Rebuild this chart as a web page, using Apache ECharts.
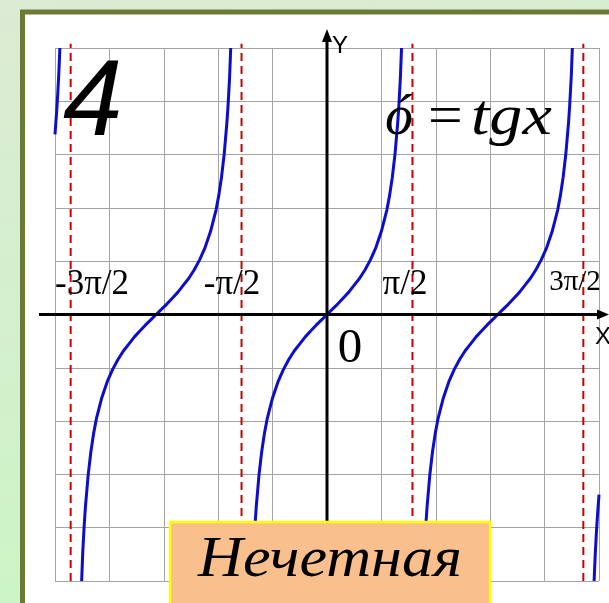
<!DOCTYPE html>
<html>
<head>
<meta charset="utf-8">
<script src="https://cdn.jsdelivr.net/npm/echarts@6/dist/echarts.min.js"></script>
<style>
html, body { margin: 0; padding: 0; overflow: hidden; }
#chart { width: 609px; height: 603px; }
</style>
</head>
<body>
<div id="chart"></div>
<script>
// y = tg x on x in [-5, 5]; each branch is cut off at |y| = 5
const branchY = [-5, -4.46, -3.90, -3.60, -3.01, -2.57, -2.23, -1.96, -1.56, -1.26, -1.03, -0.84, -0.68,
  -0.55, -0.42, -0.31, -0.20, -0.10, 0, 0.10, 0.20, 0.31, 0.42, 0.55, 0.68, 0.84, 1.03, 1.26, 1.56,
  1.96, 2.23, 2.57, 3.01, 3.60, 3.90, 4.46, 5];
const branchWestX = [-4.51, -4.49, -4.46, -4.44, -4.39, -4.34, -4.29, -4.24, -4.14, -4.04, -3.94, -3.84,
  -3.74, -3.64, -3.54, -3.44, -3.34, -3.24, -3.14, -3.04, -2.94, -2.84, -2.74, -2.64, -2.54, -2.44,
  -2.34, -2.24, -2.14, -2.04, -1.99, -1.94, -1.89, -1.84, -1.82, -1.79, -1.77];
const branchCentreX = [-1.37, -1.35, -1.32, -1.30, -1.25, -1.20, -1.15, -1.10, -1.00, -0.90, -0.80, -0.70,
  -0.60, -0.50, -0.40, -0.30, -0.20, -0.10, 0, 0.10, 0.20, 0.30, 0.40, 0.50, 0.60, 0.70, 0.80, 0.90,
  1.00, 1.10, 1.15, 1.20, 1.25, 1.30, 1.32, 1.35, 1.37];
const branchEastX = [1.77, 1.79, 1.82, 1.84, 1.89, 1.94, 1.99, 2.04, 2.14, 2.24, 2.34, 2.44, 2.54, 2.64,
  2.74, 2.84, 2.94, 3.04, 3.14, 3.24, 3.34, 3.44, 3.54, 3.64, 3.74, 3.84, 3.94, 4.04, 4.14, 4.24,
  4.29, 4.34, 4.39, 4.44, 4.46, 4.49, 4.51];
const edgeLeftX = [-5, -4.97, -4.95, -4.93, -4.91];
const edgeLeftY = [3.38, 3.80, 4.13, 4.52, 5];
const edgeRightX = [4.91, 4.93, 4.95, 4.97, 5];
const edgeRightY = [-5, -4.52, -4.13, -3.80, -3.38];

// vertical asymptotes x = ±π/2, ±3π/2
const asymptoteX = [-4.712, -1.571, 1.571, 4.712];
const asymptoteSpan = [-5, 5.08];
const asymptoteLabels = ['-3π/2', '-π/2', 'π/2', '3π/2'];

// square grid, one cell per unit
const axisMin = -5;
const axisMax = 5;
const axisStep = 1;

const zip = (xs, ys) => xs.map((x, i) => [x, ys[i]]);

const curveStyle = { color: '#0d0dcc', width: 3 };
const curveSeries = [
  zip(edgeLeftX, edgeLeftY),
  zip(branchWestX, branchY),
  zip(branchCentreX, branchY),
  zip(branchEastX, branchY),
  zip(edgeRightX, edgeRightY)
].map(data => ({
  type: 'line', data, symbol: 'none', z: 4,
  lineStyle: curveStyle, clip: false, silent: true
}));

const asymptoteSeries = asymptoteX.map(x => ({
  type: 'line', data: [[x, asymptoteSpan[0]], [x, asymptoteSpan[1]]],
  symbol: 'none', z: 3, clip: false, silent: true,
  lineStyle: { color: '#cc0000', width: 2, type: [8, 5] }
}));

const chart = echarts.init(document.getElementById('chart'), null, { renderer: 'canvas' });

const valueAxis = {
  type: 'value', min: axisMin, max: axisMax, interval: axisStep,
  axisLine: { show: false }, axisTick: { show: false }, axisLabel: { show: false },
  splitLine: { show: true, lineStyle: { color: '#a4a4a4', width: 1 } }
};

chart.setOption({
  animation: false,
  backgroundColor: {
    type: 'linear', x: 0, y: 0, x2: 0.25, y2: 1,
    colorStops: [{ offset: 0, color: '#dcebd4' }, { offset: 1, color: '#ccf5c6' }]
  },
  grid: { left: 55, right: 10, top: 48, bottom: 22 },
  xAxis: valueAxis,
  yAxis: valueAxis,
  series: asymptoteSeries.concat(curveSeries)
});

const origin = chart.convertToPixel({ gridIndex: 0 }, [0, 0]);
const ox = origin[0];
const oy = origin[1];
const W = 609, H = 603;

const serif = '"Liberation Serif", "Times New Roman", serif';
const sans = '"Liberation Sans", Arial, sans-serif';

const labelCentres = [92, 232, 405, 575];
const labelSizes = [35, 35, 35, 29];
const labelMid = [285, 285, 285, 282];

const graphic = [
  // white sheet with olive frame
  { type: 'rect', z: -1, silent: true,
    shape: { x: 22.5, y: 12, width: 700, height: 700 },
    style: { fill: '#ffffff', stroke: '#6a7b36', lineWidth: 5 } },
  // coordinate axes with arrows
  { type: 'line', z: 5, silent: true,
    shape: { x1: 39, y1: oy, x2: W - 6, y2: oy },
    style: { stroke: '#000', lineWidth: 3 } },
  { type: 'polygon', z: 5, silent: true,
    shape: { points: [[W, oy], [W - 12, oy - 5], [W - 12, oy + 5]] },
    style: { fill: '#000' } },
  { type: 'line', z: 5, silent: true,
    shape: { x1: ox, y1: H, x2: ox, y2: 36 },
    style: { stroke: '#000', lineWidth: 3 } },
  { type: 'polygon', z: 5, silent: true,
    shape: { points: [[ox, 29], [ox - 5, 42], [ox + 5, 42]] },
    style: { fill: '#000' } },
  { type: 'text', z: 6, silent: true, x: 340, y: 46,
    style: { text: 'Y', font: '24px ' + sans, fill: '#000', textAlign: 'center', textVerticalAlign: 'middle' } },
  { type: 'text', z: 6, silent: true, x: 595, y: 337,
    style: { text: 'X', font: '24px ' + sans, fill: '#000', textAlign: 'left', textVerticalAlign: 'middle' } },
  { type: 'text', z: 6, silent: true, x: 350, y: 349,
    style: { text: '0', font: '49px ' + serif, fill: '#000', textAlign: 'center', textVerticalAlign: 'middle' } },
  // panel number
  { type: 'text', z: 6, silent: true, x: 63, y: 105,
    style: { text: '4', font: 'italic 107px ' + sans, fill: '#000', textAlign: 'left', textVerticalAlign: 'middle' } },
  // formula
  { type: 'text', z: 6, silent: true, x: 385, y: 119,
    style: { text: 'ó', font: 'italic 56px ' + serif, fill: '#000', textAlign: 'left', textVerticalAlign: 'middle' } },
  { type: 'text', z: 6, silent: true, x: 428, y: 119, scaleX: 1.1,
    style: { text: '=', font: '56px ' + serif, fill: '#000', textAlign: 'left', textVerticalAlign: 'middle' } },
  { type: 'text', z: 6, silent: true, x: 471, y: 119, scaleX: 1.18,
    style: { text: 'tgx', font: 'italic 56px ' + serif, fill: '#000', textAlign: 'left', textVerticalAlign: 'middle' } },
  // caption box
  { type: 'rect', z: 10, silent: true,
    shape: { x: 170, y: 522, width: 320, height: 120 },
    style: { fill: '#f9c08e', stroke: '#ffff00', lineWidth: 2.5 } },
  { type: 'text', z: 11, silent: true, x: 330, y: 561, scaleX: 1.11,
    style: { text: 'Нечетная', font: 'italic 56px ' + serif, fill: '#000', textAlign: 'center', textVerticalAlign: 'middle' } }
];

asymptoteLabels.forEach((t, i) => {
  graphic.push({ type: 'text', z: 6, silent: true, x: labelCentres[i], y: labelMid[i],
    style: { text: t, font: labelSizes[i] + 'px ' + serif, fill: '#000', textAlign: 'center', textVerticalAlign: 'middle' } });
});

chart.setOption({ graphic });
</script>
</body>
</html>
